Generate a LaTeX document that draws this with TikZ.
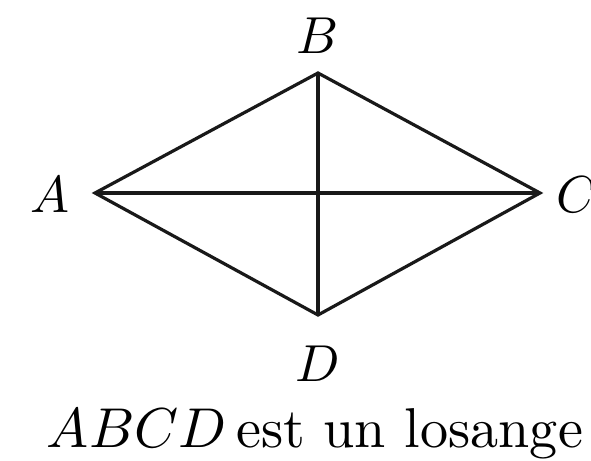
\documentclass[tikz,border=0pt]{standalone}
\usepackage{graphicx}
\begin{document}
\begin{tikzpicture}[x=1pt,y=1pt,
  side/.style={line width=3.2pt,line join=miter,draw=black!90},
  lbl/.style={inner sep=0pt}]
\useasboundingbox (0,0) rectangle (591,460);
\coordinate (A) at (95,267);
\coordinate (B) at (318,387);
\coordinate (C) at (540,267);
\coordinate (D) at (318,145);
\draw[side] (A) -- (B) -- (C) -- (D) -- cycle;
\draw[side] (A) -- (C);
\draw[side] (B) -- (D);
\node[lbl] (lA) at (50,265) {\scalebox{5.2}{$A$}};
\node[lbl] (lB) at (318,424) {\scalebox{5.2}{$B$}};
\node[lbl,anchor=west] (lC) at (556,265) {\scalebox{5.2}{$C$}};
\node[lbl] (lD) at (318,96) {\scalebox{5.2}{$D$}};
\node[inner sep=0pt,anchor=base] (cap) at (315,12) {\resizebox{536pt}{!}{$ABCD$\,est un losange}};
\end{tikzpicture}
\end{document}
